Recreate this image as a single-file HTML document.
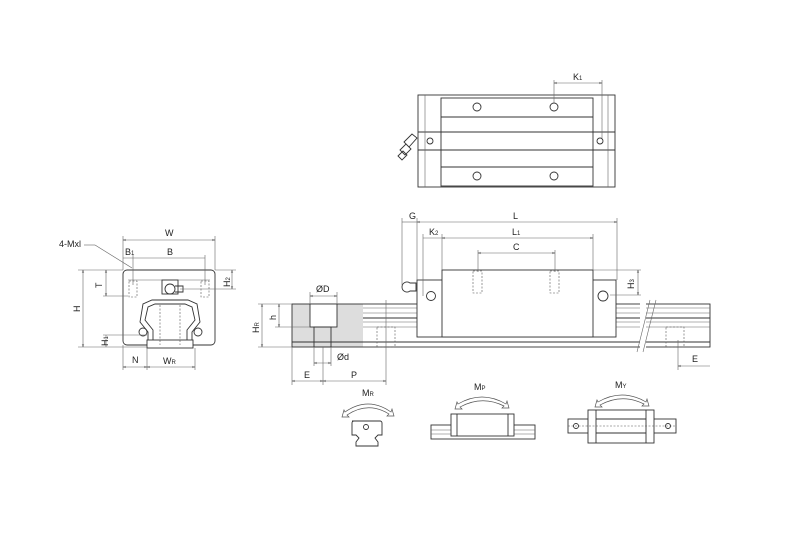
<!DOCTYPE html>
<html><head><style>
body{margin:0;background:#fff}
svg{display:block}
text{font-family:"Liberation Sans",sans-serif;font-size:9px;fill:#222}
.l{stroke:#333;stroke-width:.9;fill:none}
.t{stroke:#666;stroke-width:.6;fill:none}
.d{stroke:#555;stroke-width:.6;fill:none;stroke-dasharray:2 1.5}
.w{stroke:#333;stroke-width:.9;fill:#fff}
.arc{fill:#fff;stroke:#555;stroke-width:.7}
</style></head><body>
<svg width="800" height="533" viewBox="0 0 800 533">
<defs><marker id="a" markerWidth="6" markerHeight="6" refX="5" refY="3" orient="auto-start-reverse"><path d="M0,1.5 L5,3 L0,4.5" fill="none" stroke="#555" stroke-width=".7"/></marker></defs>

<!-- TOP VIEW -->
<rect class="w" x="418" y="95" width="197" height="92"/>
<rect class="w" x="441" y="98" width="152" height="88"/>
<line class="l" x1="441" y1="117" x2="593" y2="117"/>
<line class="l" x1="418" y1="132" x2="615" y2="132"/>
<line class="l" x1="418" y1="150" x2="615" y2="150"/>
<line class="l" x1="441" y1="167" x2="593" y2="167"/>
<line class="t" x1="425" y1="95" x2="425" y2="187"/><line class="t" x1="608" y1="95" x2="608" y2="187"/>
<circle class="l" cx="477" cy="107" r="4"/><circle class="l" cx="554" cy="107" r="4"/>
<circle class="l" cx="477" cy="176" r="4"/><circle class="l" cx="554" cy="176" r="4"/>
<circle class="l" cx="430" cy="141" r="3"/><circle class="l" cx="600" cy="141" r="3"/>
<path class="l" d="M404,142 l8,-8 l5,4 l-8,9z M400,150 l6,-6 l5,5 l-6,6z M398,156 l5,-5 l4,4 l-5,5z"/>
<line class="t" x1="554" y1="80" x2="554" y2="103"/><line class="t" x1="602" y1="80" x2="602" y2="138"/>
<line class="t" x1="554" y1="83" x2="602" y2="83" marker-start="url(#a)" marker-end="url(#a)"/>
<text x="573" y="80">K<tspan font-size="6">1</tspan></text>

<!-- SIDE VIEW -->
<rect x="292" y="304" width="71" height="43" fill="#ddd"/>
<rect class="l" x="292" y="304" width="418" height="43"/>
<line class="t" x1="363" y1="308" x2="710" y2="308"/><line class="t" x1="363" y1="313" x2="710" y2="313"/>
<line class="l" x1="363" y1="318" x2="710" y2="318"/><line class="t" x1="363" y1="322" x2="710" y2="322"/>
<line class="t" x1="363" y1="327" x2="710" y2="327"/><line class="l" x1="292" y1="342" x2="710" y2="342"/>
<rect x="640" y="300" width="6" height="52" fill="#fff"/>
<line class="t" x1="637" y1="352" x2="650" y2="300"/><line class="t" x1="643" y1="352" x2="656" y2="300"/>
<rect class="w" x="310" y="304" width="27" height="23"/>
<rect class="l" x="314" y="327" width="17" height="20"/>
<rect class="d" x="377" y="327" width="18" height="20"/><rect class="d" x="666" y="327" width="18" height="20"/>
<rect class="w" x="417" y="280" width="199" height="57"/>
<rect class="w" x="442" y="270" width="151" height="67"/>
<circle class="l" cx="431" cy="296" r="4.5"/><circle class="l" cx="603" cy="296" r="5"/>
<rect class="d" x="473" y="271" width="9" height="22"/><rect class="d" x="550" y="271" width="9" height="22"/>
<path class="l" d="M402,287 a5,5 0 0 1 8,-4 l6,0 l0,8 l-6,0 a5,5 0 0 1 -8,-4z"/>
<line class="t" x1="402" y1="218" x2="402" y2="285"/><line class="t" x1="417" y1="218" x2="417" y2="280"/>
<line class="t" x1="617" y1="218" x2="617" y2="280"/><line class="t" x1="442" y1="234" x2="442" y2="270"/>
<line class="t" x1="593" y1="234" x2="593" y2="270"/><line class="t" x1="423" y1="234" x2="423" y2="296"/>
<line class="t" x1="478" y1="250" x2="478" y2="272"/><line class="t" x1="555" y1="250" x2="555" y2="272"/>
<line class="t" x1="402" y1="222" x2="417" y2="222"/>
<line class="t" x1="417" y1="222" x2="617" y2="222" marker-start="url(#a)" marker-end="url(#a)"/>
<line class="t" x1="442" y1="238" x2="593" y2="238" marker-start="url(#a)" marker-end="url(#a)"/>
<line class="t" x1="423" y1="238" x2="442" y2="238"/>
<line class="t" x1="478" y1="253" x2="555" y2="253" marker-start="url(#a)" marker-end="url(#a)"/>
<text x="409" y="219">G</text><text x="513" y="219">L</text>
<text x="512" y="235">L<tspan font-size="6">1</tspan></text><text x="429" y="235">K<tspan font-size="6">2</tspan></text>
<text x="513" y="250">C</text>
<line class="t" x1="593" y1="270" x2="641" y2="270"/><line class="t" x1="610" y1="295" x2="641" y2="295"/>
<line class="t" x1="638" y1="270" x2="638" y2="295" marker-start="url(#a)" marker-end="url(#a)"/>
<text x="0" y="0" transform="translate(634,289) rotate(-90)">H<tspan font-size="6">3</tspan></text>
<line class="t" x1="258" y1="304" x2="292" y2="304"/><line class="t" x1="258" y1="347" x2="292" y2="347"/>
<line class="t" x1="275" y1="327" x2="310" y2="327"/>
<line class="t" x1="262" y1="304" x2="262" y2="347" marker-start="url(#a)" marker-end="url(#a)"/>
<line class="t" x1="279" y1="304" x2="279" y2="327" marker-start="url(#a)" marker-end="url(#a)"/>
<text x="0" y="0" transform="translate(259,333) rotate(-90)">H<tspan font-size="6">R</tspan></text>
<text x="0" y="0" transform="translate(276,320) rotate(-90)">h</text>
<line class="t" x1="310" y1="292" x2="310" y2="304"/><line class="t" x1="337" y1="292" x2="337" y2="304"/>
<line class="t" x1="310" y1="296" x2="337" y2="296" marker-start="url(#a)" marker-end="url(#a)"/>
<text x="316" y="292">ØD</text>
<line class="t" x1="314" y1="347" x2="314" y2="366"/><line class="t" x1="331" y1="347" x2="331" y2="366"/>
<line class="t" x1="314" y1="363" x2="331" y2="363" marker-start="url(#a)" marker-end="url(#a)"/>
<text x="337" y="360">Ød</text>
<line class="t" x1="292" y1="347" x2="292" y2="385"/><line class="t" x1="323" y1="347" x2="323" y2="385"/>
<line class="t" x1="386" y1="300" x2="386" y2="385"/>
<line class="t" x1="292" y1="381" x2="323" y2="381" marker-start="url(#a)" marker-end="url(#a)"/>
<line class="t" x1="323" y1="381" x2="386" y2="381" marker-start="url(#a)" marker-end="url(#a)"/>
<text x="304" y="378">E</text><text x="351" y="378">P</text>
<line class="t" x1="678" y1="340" x2="678" y2="370"/>
<line class="t" x1="678" y1="366" x2="710" y2="366" marker-start="url(#a)"/>
<text x="692" y="362">E</text>

<!-- FRONT VIEW -->
<rect class="w" x="123" y="270" width="92" height="75" rx="4"/>
<line class="t" x1="128" y1="280" x2="210" y2="280"/>
<path class="l" d="M148,345 L148,332 L140,322 L143,304 L152,300 L188,300 L197,304 L200,322 L192,332 L192,345"/>
<path class="l" d="M153,345 L153,330 L145,320 L148,307 L155,304 L185,304 L192,307 L195,320 L187,330 L187,345"/>
<rect class="w" x="147" y="340" width="46" height="8"/>
<rect class="l" x="162" y="280" width="16" height="14"/>
<circle class="l" cx="170" cy="289" r="5"/>
<path class="l" d="M175,286 h8 v6 h-8"/>
<circle class="l" cx="143" cy="332" r="4"/><circle class="l" cx="198" cy="332" r="4"/>
<rect class="d" x="129" y="281" width="8" height="16"/><rect class="d" x="201" y="281" width="8" height="16"/>
<line class="d" x1="160" y1="305" x2="160" y2="345"/><line class="d" x1="180" y1="305" x2="180" y2="345"/>
<line class="t" x1="123" y1="236" x2="123" y2="270"/><line class="t" x1="215" y1="236" x2="215" y2="270"/>
<line class="t" x1="123" y1="240" x2="215" y2="240" marker-start="url(#a)" marker-end="url(#a)"/>
<text x="165" y="236">W</text>
<line class="t" x1="133" y1="255" x2="133" y2="285"/><line class="t" x1="205" y1="255" x2="205" y2="285"/>
<line class="t" x1="123" y1="258" x2="205" y2="258"/>
<text x="125" y="255">B<tspan font-size="6">1</tspan></text><text x="167" y="255">B</text>
<text x="59" y="247">4-Mxl</text>
<line class="t" x1="84" y1="245" x2="95" y2="245"/><line class="t" x1="95" y1="245" x2="132" y2="268"/>
<line class="t" x1="78" y1="270" x2="123" y2="270"/><line class="t" x1="78" y1="347" x2="147" y2="347"/>
<line class="t" x1="83" y1="270" x2="83" y2="347" marker-start="url(#a)" marker-end="url(#a)"/>
<text x="0" y="0" transform="translate(80,312) rotate(-90)">H</text>
<line class="t" x1="103" y1="296" x2="128" y2="296"/>
<line class="t" x1="106" y1="270" x2="106" y2="296" marker-start="url(#a)" marker-end="url(#a)"/>
<text x="0" y="0" transform="translate(102,288) rotate(-90)">T</text>
<line class="t" x1="103" y1="335" x2="147" y2="335"/>
<line class="t" x1="106" y1="335" x2="106" y2="347"/>
<text x="0" y="0" transform="translate(108,346) rotate(-90)">H<tspan font-size="6">1</tspan></text>
<line class="t" x1="215" y1="270" x2="236" y2="270"/><line class="t" x1="180" y1="289" x2="236" y2="289"/>
<line class="t" x1="232" y1="270" x2="232" y2="289" marker-start="url(#a)" marker-end="url(#a)"/>
<text x="0" y="0" transform="translate(230,287) rotate(-90)">H<tspan font-size="6">2</tspan></text>
<line class="t" x1="123" y1="345" x2="123" y2="370"/><line class="t" x1="147" y1="348" x2="147" y2="370"/>
<line class="t" x1="195" y1="348" x2="195" y2="370"/>
<line class="t" x1="123" y1="367" x2="147" y2="367" marker-start="url(#a)" marker-end="url(#a)"/>
<line class="t" x1="147" y1="367" x2="195" y2="367" marker-start="url(#a)" marker-end="url(#a)"/>
<text x="132" y="363">N</text><text x="163" y="364">W<tspan font-size="6">R</tspan></text>

<!-- MOMENTS -->
<text x="362" y="396">M<tspan font-size="6">R</tspan></text>
<path class="arc" d="M345,412 Q368,396 391,412 l1,-3 l2,7 l-7,0 l2,-2 Q368,401 347,415 l2,2 l-7,0 l2,-7z"/>
<path class="l" d="M352,421 h28 a2,2 0 0 1 2,2 v12 h-4 l-3,3 l3,4 v4 h-22 v-4 l3,-4 l-3,-3 h-4 v-12 a2,2 0 0 1 2,-2z"/>
<circle class="l" cx="366" cy="427" r="2.5"/>
<text x="474" y="390">M<tspan font-size="6">P</tspan></text>
<path class="arc" d="M458,404 Q482,390 506,404 l1,-3 l2,7 l-7,0 l2,-2 Q482,395 460,407 l2,2 l-7,0 l2,-7z"/>
<rect class="w" x="431" y="425" width="104" height="14"/>
<line class="t" x1="431" y1="430" x2="535" y2="430"/><line class="t" x1="431" y1="434" x2="535" y2="434"/>
<rect class="w" x="451" y="414" width="63" height="22"/>
<line class="l" x1="457" y1="414" x2="457" y2="436"/><line class="l" x1="508" y1="414" x2="508" y2="436"/>
<text x="615" y="388">M<tspan font-size="6">Y</tspan></text>
<path class="arc" d="M598,402 Q622,388 646,402 l1,-3 l2,7 l-7,0 l2,-2 Q622,393 600,405 l2,2 l-7,0 l2,-7z"/>
<rect class="w" x="568" y="419" width="108" height="14"/>
<rect class="w" x="588" y="410" width="66" height="33"/>
<line class="l" x1="596" y1="410" x2="596" y2="443"/><line class="l" x1="646" y1="410" x2="646" y2="443"/>
<line class="l" x1="596" y1="419" x2="646" y2="419"/><line class="l" x1="596" y1="433" x2="646" y2="433"/>
<line class="d" x1="568" y1="426" x2="676" y2="426"/>
<circle class="l" cx="576" cy="426" r="2.5"/><circle class="l" cx="668" cy="426" r="2.5"/>
</svg>
</body></html>
